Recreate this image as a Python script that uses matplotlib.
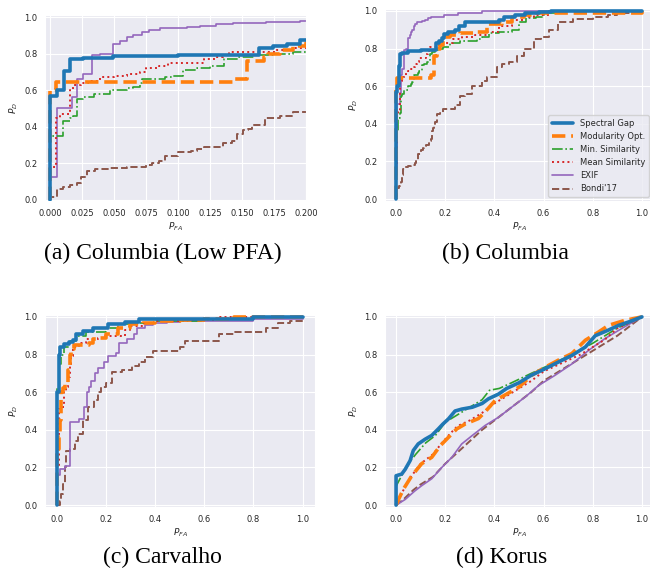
import matplotlib
matplotlib.use("Agg")
import matplotlib.pyplot as plt
import seaborn as sns

# ---------------- data ----------------
methods = ["Spectral Gap", "Modularity Opt.", "Min. Similarity",
           "Mean Similarity", "EXIF", "Bondi'17"]
captions = ["(a) Columbia (Low PFA)", "(b) Columbia", "(c) Carvalho", "(d) Korus"]
y_ticks = [0.0, 0.2, 0.4, 0.6, 0.8, 1.0]
x_ticks_low = [0.0, 0.025, 0.05, 0.075, 0.1, 0.125, 0.15, 0.175, 0.2]
x_ticks_full = [0.0, 0.2, 0.4, 0.6, 0.8, 1.0]

# Columbia ROC (fpr where tpr reaches the value)
col_spectral_fpr = [0, 0, 0.0052, 0.011, 0.0156, 0.026, 0.049, 0.10, 0.163, 0.174, 0.185, 0.195, 0.21, 0.24, 0.255, 0.28, 0.42, 0.44, 0.485, 0.525, 0.58, 0.63, 1.0]
col_spectral_tpr = [0, 0.57, 0.60, 0.705, 0.77, 0.778, 0.785, 0.79, 0.83, 0.84, 0.855, 0.875, 0.89, 0.90, 0.92, 0.94, 0.95, 0.97, 0.98, 0.99, 0.995, 1.0, 1.0]
col_modularity_fpr = [0, 0, 0.005, 0.143, 0.1536, 0.167, 0.17, 0.18, 0.19, 0.2, 0.22, 0.26, 0.33, 0.37, 0.43, 0.47, 0.52, 0.56, 1.0]
col_modularity_tpr = [0, 0.6, 0.645, 0.66, 0.76, 0.78, 0.80, 0.82, 0.84, 0.86, 0.87, 0.88, 0.89, 0.93, 0.94, 0.97, 0.98, 0.99, 1.0]
col_minsim_fpr = [0, 0, 0.0099, 0.0156, 0.018, 0.021, 0.026, 0.034, 0.047, 0.06, 0.065, 0.07, 0.072, 0.09, 0.095, 0.1036, 0.115, 0.125, 0.136, 0.147, 0.16, 0.175, 0.19, 0.22, 0.26, 0.33, 0.35, 0.38, 0.42, 0.47, 0.5, 0.53, 0.57, 0.6, 0.65, 1.0]
col_minsim_tpr = [0, 0.35, 0.43, 0.45, 0.46, 0.55, 0.56, 0.58, 0.60, 0.61, 0.62, 0.64, 0.66, 0.67, 0.68, 0.71, 0.72, 0.73, 0.77, 0.78, 0.79, 0.80, 0.81, 0.83, 0.84, 0.85, 0.86, 0.88, 0.89, 0.90, 0.94, 0.96, 0.97, 0.99, 1.0, 1.0]
col_meansim_fpr = [0, 0, 0.005, 0.008, 0.0156, 0.018, 0.024, 0.03, 0.039, 0.05, 0.06, 0.07, 0.075, 0.085, 0.092, 0.12, 0.13, 0.135, 0.14, 0.175, 0.19, 0.23, 0.27, 0.32, 0.37, 0.42, 0.47, 0.52, 0.56, 0.62, 1.0]
col_meansim_tpr = [0, 0.18, 0.45, 0.47, 0.60, 0.63, 0.64, 0.65, 0.67, 0.68, 0.69, 0.70, 0.72, 0.73, 0.75, 0.77, 0.78, 0.795, 0.81, 0.82, 0.83, 0.85, 0.86, 0.87, 0.89, 0.92, 0.95, 0.97, 0.98, 1.0, 1.0]
col_exif_fpr = [0, 0, 0.0057, 0.017, 0.021, 0.026, 0.0325, 0.039, 0.049, 0.055, 0.06, 0.065, 0.072, 0.077, 0.086, 0.107, 0.117, 0.13, 0.143, 0.169, 0.195, 0.25, 0.35, 1.0]
col_exif_tpr = [0, 0.127, 0.505, 0.565, 0.66, 0.69, 0.79, 0.80, 0.855, 0.87, 0.89, 0.90, 0.92, 0.93, 0.94, 0.945, 0.95, 0.96, 0.965, 0.97, 0.98, 0.99, 1.0, 1.0]
col_bondi_fpr = [0, 0, 0.0057, 0.01, 0.016, 0.021, 0.024, 0.029, 0.035, 0.047, 0.06, 0.075, 0.08, 0.085, 0.09, 0.1, 0.11, 0.115, 0.12, 0.135, 0.142, 0.146, 0.151, 0.155, 0.158, 0.168, 0.18, 0.19, 0.24, 0.26, 0.28, 0.31, 0.35, 0.37, 0.41, 0.43, 0.46, 0.49, 0.52, 0.56, 0.59, 0.62, 0.66, 0.72, 0.8, 0.86, 0.9, 1.0]
col_bondi_tpr = [0, 0.015, 0.06, 0.07, 0.08, 0.09, 0.127, 0.16, 0.17, 0.175, 0.18, 0.19, 0.20, 0.21, 0.24, 0.26, 0.27, 0.28, 0.29, 0.31, 0.32, 0.36, 0.38, 0.39, 0.41, 0.45, 0.46, 0.48, 0.50, 0.55, 0.56, 0.60, 0.63, 0.65, 0.70, 0.72, 0.73, 0.76, 0.80, 0.85, 0.86, 0.90, 0.94, 0.955, 0.965, 0.98, 0.99, 1.0]

# Carvalho ROC
car_spectral_fpr = [0, 0, 0.01, 0.015, 0.03, 0.05, 0.067, 0.08, 0.107, 0.147, 0.21, 0.28, 0.333, 0.8, 1.0]
car_spectral_tpr = [0, 0.6, 0.8, 0.84, 0.855, 0.865, 0.875, 0.907, 0.925, 0.94, 0.96, 0.973, 0.988, 1.0, 1.0]
car_modularity_fpr = [0, 0, 0.01, 0.015, 0.02, 0.025, 0.035, 0.045, 0.055, 0.06, 0.07, 0.13, 0.15, 0.17, 0.2, 0.25, 0.3, 0.35, 0.4, 0.5, 0.6, 0.72, 1.0]
car_modularity_tpr = [0, 0.3, 0.36, 0.45, 0.6, 0.62, 0.65, 0.72, 0.8, 0.83, 0.85, 0.86, 0.88, 0.89, 0.91, 0.94, 0.96, 0.97, 0.98, 0.985, 0.99, 1.0, 1.0]
car_minsim_fpr = [0, 0, 0.008, 0.02, 0.03, 0.05, 0.08, 0.12, 0.2, 0.25, 0.3, 0.4, 0.6, 0.8, 1.0]
car_minsim_tpr = [0, 0.62, 0.75, 0.8, 0.84, 0.87, 0.9, 0.92, 0.94, 0.96, 0.97, 0.98, 0.99, 1.0, 1.0]
car_meansim_fpr = [0, 0, 0.01, 0.01, 0.025, 0.03, 0.04, 0.047, 0.055, 0.06, 0.067, 0.09, 0.12, 0.17, 0.19, 0.28, 0.3, 0.35, 0.4, 0.5, 0.65, 1.0]
car_meansim_tpr = [0, 0.2, 0.4, 0.51, 0.52, 0.6, 0.63, 0.68, 0.75, 0.79, 0.84, 0.86, 0.88, 0.89, 0.90, 0.93, 0.95, 0.97, 0.98, 0.985, 1.0, 1.0]
car_exif_fpr = [0, 0, 0.013, 0.033, 0.053, 0.093, 0.113, 0.125, 0.13, 0.14, 0.155, 0.167, 0.193, 0.207, 0.24, 0.253, 0.287, 0.313, 0.327, 0.36, 0.393, 0.45, 0.5, 0.8, 1.0]
car_exif_tpr = [0, 0.16, 0.19, 0.21, 0.44, 0.46, 0.52, 0.6, 0.63, 0.66, 0.70, 0.73, 0.76, 0.79, 0.81, 0.86, 0.88, 0.91, 0.94, 0.955, 0.968, 0.975, 0.98, 0.99, 1.0]
car_bondi_fpr = [0, 0.013, 0.02, 0.027, 0.033, 0.04, 0.053, 0.073, 0.087, 0.107, 0.127, 0.153, 0.167, 0.18, 0.2, 0.227, 0.267, 0.307, 0.333, 0.36, 0.393, 0.5, 0.52, 0.66, 0.72, 0.85, 0.9, 0.95, 1.0]
car_bondi_tpr = [0, 0.02, 0.06, 0.11, 0.2, 0.29, 0.30, 0.34, 0.38, 0.45, 0.52, 0.56, 0.60, 0.625, 0.65, 0.705, 0.72, 0.74, 0.76, 0.786, 0.82, 0.84, 0.87, 0.91, 0.92, 0.94, 0.965, 0.98, 1.0]

# Korus ROC
kor_spectral_fpr = [0, 0, 0.023, 0.037, 0.057, 0.07, 0.09, 0.118, 0.145, 0.172, 0.19, 0.213, 0.24, 0.267, 0.31, 0.35, 0.376, 0.417, 0.45, 0.5, 0.55, 0.607, 0.66, 0.715, 0.77, 0.81, 0.864, 0.905, 0.946, 1.0]
kor_spectral_tpr = [0, 0.156, 0.165, 0.19, 0.236, 0.29, 0.325, 0.35, 0.37, 0.405, 0.43, 0.458, 0.50, 0.51, 0.52, 0.54, 0.565, 0.59, 0.62, 0.65, 0.69, 0.725, 0.76, 0.795, 0.84, 0.90, 0.93, 0.955, 0.973, 1.0]
kor_modularity_fpr = [0, 0.01, 0.03, 0.064, 0.104, 0.145, 0.18, 0.213, 0.247, 0.28, 0.335, 0.362, 0.403, 0.45, 0.5, 0.552, 0.607, 0.66, 0.715, 0.77, 0.824, 0.864, 0.932, 1.0]
kor_modularity_tpr = [0, 0.03, 0.085, 0.156, 0.22, 0.254, 0.316, 0.36, 0.405, 0.43, 0.46, 0.495, 0.556, 0.59, 0.627, 0.69, 0.733, 0.77, 0.805, 0.876, 0.92, 0.955, 0.982, 1.0]
kor_minsim_fpr = [0, 0, 0.02, 0.05, 0.08, 0.12, 0.16, 0.2, 0.25, 0.3, 0.35, 0.38, 0.42, 0.47, 0.55, 0.6, 0.7, 0.8, 0.9, 1.0]
kor_minsim_tpr = [0, 0.1, 0.15, 0.22, 0.27, 0.33, 0.37, 0.44, 0.48, 0.52, 0.56, 0.61, 0.62, 0.65, 0.70, 0.73, 0.79, 0.86, 0.94, 1.0]
kor_meansim_fpr = [0, 0.01, 0.03, 0.06, 0.1, 0.15, 0.18, 0.22, 0.25, 0.3, 0.35, 0.4, 0.45, 0.5, 0.55, 0.6, 0.65, 0.7, 0.75, 0.8, 0.85, 0.9, 0.95, 1.0]
kor_meansim_tpr = [0, 0.03, 0.08, 0.15, 0.22, 0.27, 0.32, 0.38, 0.42, 0.45, 0.49, 0.54, 0.58, 0.62, 0.66, 0.71, 0.74, 0.77, 0.80, 0.84, 0.88, 0.94, 0.97, 1.0]
kor_exif_fpr = [0, 0.037, 0.077, 0.104, 0.145, 0.186, 0.227, 0.267, 0.31, 0.362, 0.417, 0.47, 0.525, 0.58, 0.647, 0.715, 0.783, 0.85, 0.92, 1.0]
kor_exif_tpr = [0, 0.03, 0.076, 0.103, 0.14, 0.20, 0.254, 0.325, 0.37, 0.423, 0.467, 0.52, 0.574, 0.636, 0.69, 0.75, 0.822, 0.885, 0.94, 1.0]
kor_bondi_fpr = [0, 0.03, 0.07, 0.1, 0.15, 0.2, 0.25, 0.3, 0.35, 0.4, 0.45, 0.5, 0.55, 0.6, 0.65, 0.7, 0.75, 0.8, 0.85, 0.9, 0.95, 1.0]
kor_bondi_tpr = [0, 0.03, 0.08, 0.11, 0.15, 0.22, 0.28, 0.34, 0.40, 0.45, 0.50, 0.55, 0.60, 0.66, 0.70, 0.74, 0.78, 0.82, 0.86, 0.90, 0.95, 1.0]

columbia = [(col_spectral_fpr, col_spectral_tpr), (col_modularity_fpr, col_modularity_tpr),
            (col_minsim_fpr, col_minsim_tpr), (col_meansim_fpr, col_meansim_tpr),
            (col_exif_fpr, col_exif_tpr), (col_bondi_fpr, col_bondi_tpr)]
carvalho = [(car_spectral_fpr, car_spectral_tpr), (car_modularity_fpr, car_modularity_tpr),
            (car_minsim_fpr, car_minsim_tpr), (car_meansim_fpr, car_meansim_tpr),
            (car_exif_fpr, car_exif_tpr), (car_bondi_fpr, car_bondi_tpr)]
korus = [(kor_spectral_fpr, kor_spectral_tpr), (kor_modularity_fpr, kor_modularity_tpr),
         (kor_minsim_fpr, kor_minsim_tpr), (kor_meansim_fpr, kor_meansim_tpr),
         (kor_exif_fpr, kor_exif_tpr), (kor_bondi_fpr, kor_bondi_tpr)]

# ---------------- style ----------------
sns.set_style("darkgrid")
plt.rcParams["font.family"] = ["DejaVu Sans"]
plt.rcParams["mathtext.fontset"] = "dejavusans"

colors = ["#1f77b4", "#ff7f0e", "#2ca02c", "#d62728", "#9467bd", "#8c564b"]
styles = ["-", "--", "-.", ":", "-", "--"]
widths = [2.6, 2.6, 1.2, 1.4, 1.2, 1.4]
zorders = [6, 5, 3, 4, 2, 1]

W, H = 650, 570
fig = plt.figure(figsize=(W / 100, H / 100), dpi=100)


def add_ax(left, top, right, bottom):
    return fig.add_axes([left / W, 1 - bottom / H, (right - left) / W, (bottom - top) / H])


panels = [
    dict(box=(45, 15, 306, 201), data=columbia, xlim=(-0.0039, 0.2), xt=x_ticks_low,
         fmt="{:.3f}", ds="steps-post", ylim=(-0.006, 1.011)),
    dict(box=(385, 9, 653, 201), data=columbia, xlim=(-0.045, 1.045), xt=x_ticks_full,
         fmt="{:.1f}", ds="steps-post", ylim=(-0.01, 1.01)),
    dict(box=(45, 315, 315, 507), data=carvalho, xlim=(-0.047, 1.05), xt=x_ticks_full,
         fmt="{:.1f}", ds="steps-post", ylim=(-0.01, 1.01)),
    dict(box=(385, 315, 653, 507), data=korus, xlim=(-0.045, 1.045), xt=x_ticks_full,
         fmt="{:.1f}", ds="default", ylim=(-0.01, 1.01)),
]
cap_pos = [(163, 253), (505, 253), (162, 557), (502, 557)]

for i, p in enumerate(panels):
    ax = add_ax(*p["box"])
    for j, (fx, ty) in enumerate(p["data"]):
        ax.plot(fx, ty, color=colors[j], linestyle=styles[j], linewidth=widths[j],
                drawstyle=p["ds"], label=methods[j], zorder=zorders[j])
    ax.set_xlim(*p["xlim"])
    ax.set_ylim(*p["ylim"])
    ax.set_xticks(p["xt"])
    ax.set_xticklabels([p["fmt"].format(v) for v in p["xt"]])
    ax.set_yticks(y_ticks)
    ax.set_yticklabels(["{:.1f}".format(v) for v in y_ticks])
    ax.tick_params(labelsize=6, pad=2, colors=".15")
    ax.set_xlabel("$P_{FA}$", fontsize=6.5, labelpad=2)
    ax.set_ylabel("$P_D$", fontsize=6.5, labelpad=3)
    if i == 1:
        ax.legend(loc="lower right", fontsize=6, handlelength=2.6, borderaxespad=0.5)
    cx, cy = cap_pos[i]
    fig.text(cx / W, 1 - cy / H, captions[i], ha="center", va="center",
             fontsize=17, family="Liberation Serif", color="black")

fig.savefig("out.png", dpi=100)
